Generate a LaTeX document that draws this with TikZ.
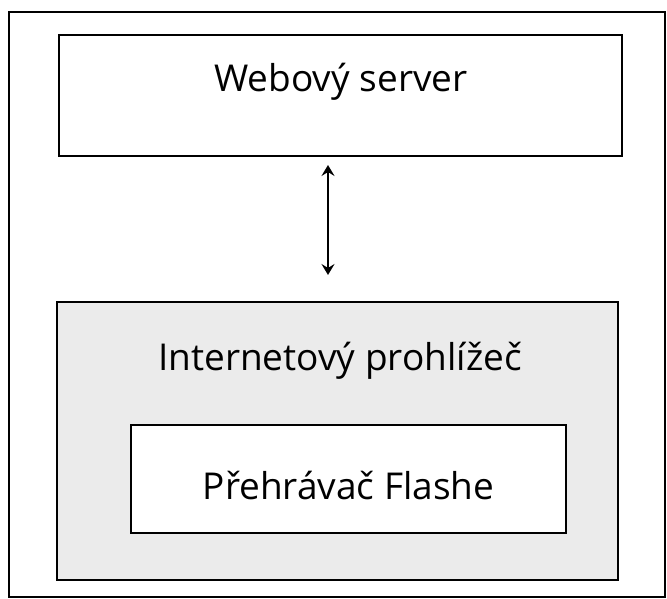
\documentclass[tikz,border=0pt]{standalone}
\usepackage{fontspec}
\setmainfont{Open Sans}
\usetikzlibrary{arrows.meta}
\definecolor{boxgray}{HTML}{EBEBEB}
\begin{document}
\begin{tikzpicture}[x=1pt,y=-1pt,
  box/.style={draw=black,line width=2pt,inner sep=0pt,anchor=center},
  lbl/.style={font=\fontsize{37}{42}\selectfont,anchor=base,inner sep=0pt},
  link/.style={line width=1.8pt,{Stealth[length=11pt,width=13pt,inset=4pt]}-{Stealth[length=11pt,width=13pt,inset=4pt]}}]
\useasboundingbox (0,0) rectangle (667,599);
\node[box,minimum width=656pt,minimum height=585pt] (frame) at (337,304.5) {};
\node[box,fill=white,minimum width=563pt,minimum height=121pt] (server) at (340.5,95.5) {};
\node[box,fill=boxgray,minimum width=561pt,minimum height=278pt] (browser) at (337.5,441) {};
\node[box,fill=white,minimum width=435pt,minimum height=108pt] (flash) at (348.5,479) {};
\node[lbl] (servertext) at (341,92) {Webový server};
\node[lbl] (browsertext) at (340,370) {Internetový prohlížeč};
\node[lbl] (flashtext) at (348.5,499) {Přehrávač Flashe};
\coordinate (atop) at (328,165);
\coordinate (abot) at (328,275);
\draw[link] (atop) -- (abot);
\end{tikzpicture}
\end{document}
